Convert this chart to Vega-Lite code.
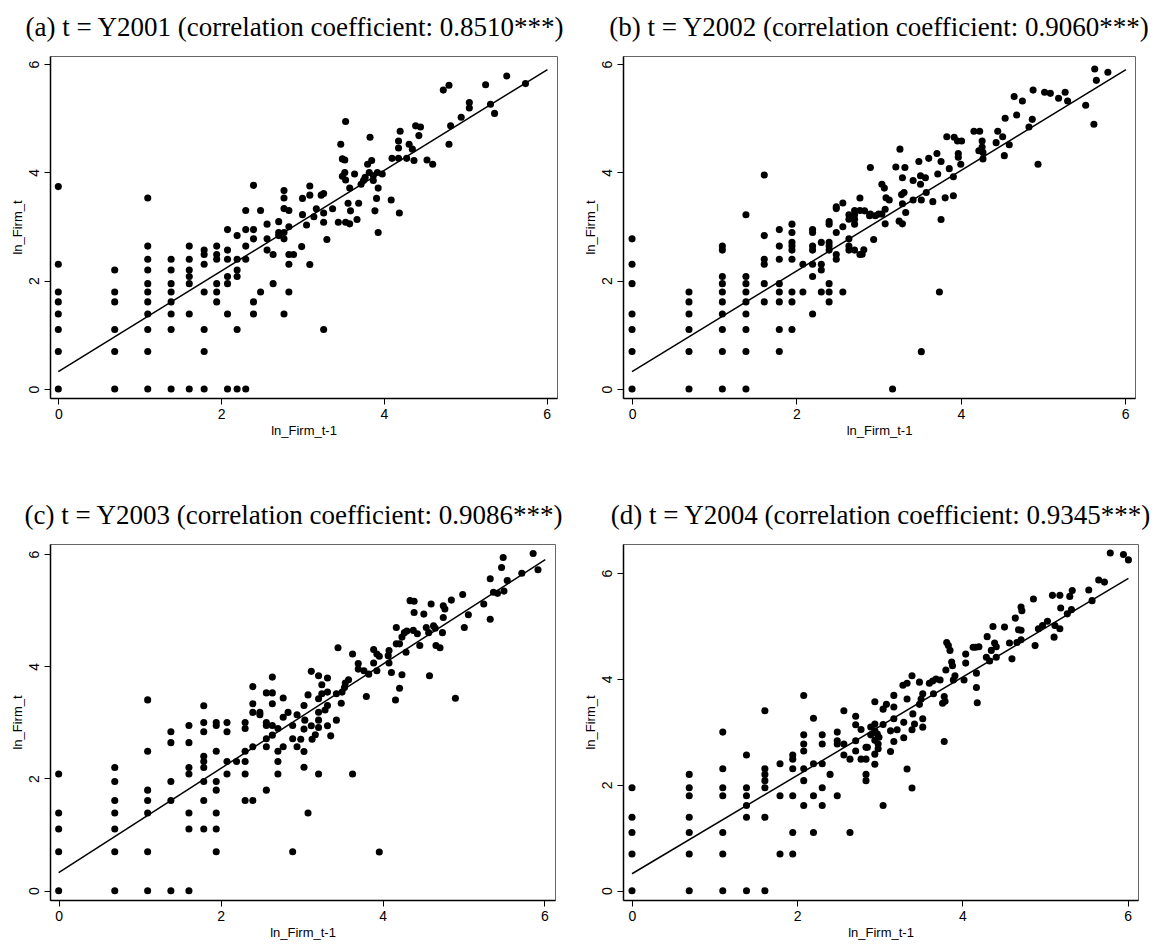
{
  "$schema": "https://vega.github.io/schema/vega-lite/v6.json",
  "padding": {"left": 10, "top": 13, "right": 5, "bottom": 5},
  "background": "white",
  "datasets": {
    "fit": [{"x": 0, "y": 0.32}, {"x": 6.01, "y": 5.9}],
    "a": [
      {"x":0,"y":3.738},{"x":0,"y":2.303},{"x":0,"y":1.792},{"x":0,"y":1.609},{"x":0,"y":1.386},{"x":0,"y":1.099},{"x":0,"y":0.693},{"x":0,"y":0},
      {"x":0.693,"y":2.197},{"x":0.693,"y":1.792},{"x":0.693,"y":1.609},{"x":0.693,"y":1.099},{"x":0.693,"y":0.693},{"x":0.693,"y":0},
      {"x":1.099,"y":3.526},{"x":1.099,"y":2.639},{"x":1.099,"y":2.398},{"x":1.099,"y":2.197},{"x":1.099,"y":1.946},{"x":1.099,"y":1.792},{"x":1.099,"y":1.609},{"x":1.099,"y":1.386},{"x":1.099,"y":1.099},{"x":1.099,"y":0.693},{"x":1.099,"y":0},
      {"x":1.386,"y":2.398},{"x":1.386,"y":2.197},{"x":1.386,"y":1.946},{"x":1.386,"y":1.792},{"x":1.386,"y":1.609},{"x":1.386,"y":1.386},{"x":1.386,"y":1.099},{"x":1.386,"y":0},
      {"x":1.609,"y":2.639},{"x":1.609,"y":2.398},{"x":1.609,"y":2.197},{"x":1.609,"y":2.079},{"x":1.609,"y":1.946},{"x":1.609,"y":1.386},{"x":1.609,"y":0},
      {"x":1.792,"y":2.565},{"x":1.792,"y":2.485},{"x":1.792,"y":2.303},{"x":1.792,"y":1.792},{"x":1.792,"y":1.099},{"x":1.792,"y":0.693},{"x":1.792,"y":0},
      {"x":1.946,"y":2.639},{"x":1.946,"y":2.485},{"x":1.946,"y":2.398},{"x":1.946,"y":1.946},{"x":1.946,"y":1.792},{"x":1.946,"y":1.609},
      {"x":2.079,"y":2.944},{"x":2.079,"y":2.565},{"x":2.079,"y":2.398},{"x":2.079,"y":2.079},{"x":2.079,"y":1.946},{"x":2.079,"y":1.386},{"x":2.079,"y":0},
      {"x":2.197,"y":2.833},{"x":2.197,"y":2.398},{"x":2.197,"y":2.197},{"x":2.197,"y":2.079},{"x":2.197,"y":1.099},{"x":2.197,"y":0},
      {"x":2.303,"y":3.296},{"x":2.303,"y":2.944},{"x":2.303,"y":2.639},{"x":2.303,"y":2.398},{"x":2.303,"y":0},
      {"x":2.398,"y":3.761},{"x":2.398,"y":2.944},{"x":2.398,"y":2.773},{"x":2.398,"y":1.609},{"x":2.398,"y":1.386},
      {"x":2.485,"y":3.296},{"x":2.485,"y":1.792},
      {"x":2.565,"y":3.045},{"x":2.565,"y":2.773},{"x":2.565,"y":2.565},
      {"x":2.639,"y":2.485},{"x":2.639,"y":1.946},
      {"x":2.708,"y":3.091},{"x":2.708,"y":2.89},{"x":2.708,"y":2.833},
      {"x":2.773,"y":3.664},{"x":2.773,"y":3.526},{"x":2.773,"y":3.332},{"x":2.773,"y":2.89},{"x":2.773,"y":2.773},{"x":2.773,"y":1.386},
      {"x":2.833,"y":3.296},{"x":2.833,"y":2.996},{"x":2.833,"y":2.485},{"x":2.833,"y":2.303},{"x":2.833,"y":1.792},
      {"x":2.89,"y":2.485},
      {"x":3.09,"y":3.75},{"x":3.09,"y":3.58},{"x":3.0,"y":3.52},{"x":3.0,"y":3.22},{"x":3.05,"y":3.03},{"x":3.14,"y":3.18},{"x":3.17,"y":3.33},{"x":3.23,"y":3.58},{"x":3.26,"y":3.61},{"x":3.26,"y":3.25},{"x":3.26,"y":3.08},{"x":3.3,"y":2.76},{"x":3.37,"y":3.33},{"x":3.44,"y":3.08},{"x":3.47,"y":4.52},{"x":3.49,"y":4.25},{"x":3.52,"y":4.23},{"x":3.53,"y":4.94},{"x":3.49,"y":3.93},{"x":3.52,"y":4.0},{"x":3.53,"y":3.86},{"x":3.56,"y":3.43},{"x":3.59,"y":3.29},{"x":3.58,"y":3.71},{"x":3.53,"y":3.08},{"x":3.58,"y":3.05},{"x":3.64,"y":3.97},{"x":3.67,"y":3.13},{"x":3.69,"y":3.43},{"x":3.72,"y":3.78},{"x":3.75,"y":3.85},{"x":3.77,"y":3.91},{"x":3.8,"y":4.15},{"x":3.83,"y":4.65},{"x":3.82,"y":4.0},{"x":3.85,"y":4.22},{"x":3.87,"y":3.85},{"x":3.87,"y":3.94},{"x":3.89,"y":3.29},{"x":3.91,"y":3.52},{"x":3.92,"y":4.0},{"x":3.93,"y":3.71},{"x":3.93,"y":2.89},{"x":3.98,"y":3.97},{"x":4.09,"y":3.49},{"x":4.1,"y":4.26},{"x":4.18,"y":4.26},{"x":4.18,"y":4.45},{"x":4.18,"y":4.58},{"x":4.2,"y":4.76},{"x":4.19,"y":3.25},{"x":4.28,"y":4.26},{"x":4.31,"y":4.52},{"x":4.35,"y":4.43},{"x":4.37,"y":4.22},{"x":4.39,"y":4.86},{"x":4.45,"y":4.84},{"x":4.43,"y":4.68},{"x":4.53,"y":4.23},{"x":4.6,"y":4.15},{"x":4.73,"y":5.52},{"x":4.8,"y":5.61},{"x":4.8,"y":4.52},{"x":4.82,"y":4.86},{"x":4.95,"y":5.02},{"x":5.05,"y":5.29},{"x":5.05,"y":5.19},{"x":5.25,"y":5.62},{"x":5.31,"y":5.26},{"x":5.36,"y":5.09},{"x":5.51,"y":5.78},{"x":5.74,"y":5.64},{"x":2.99,"y":2.63},{"x":3.09,"y":2.3},{"x":3.26,"y":1.1}
    ],
    "b": [
      {"x":0,"y":2.773},{"x":0,"y":2.303},{"x":0,"y":1.946},{"x":0,"y":1.386},{"x":0,"y":1.099},{"x":0,"y":0.693},{"x":0,"y":0},
      {"x":0.693,"y":1.792},{"x":0.693,"y":1.609},{"x":0.693,"y":1.386},{"x":0.693,"y":1.099},{"x":0.693,"y":0.693},{"x":0.693,"y":0},
      {"x":1.099,"y":2.639},{"x":1.099,"y":2.565},{"x":1.099,"y":2.079},{"x":1.099,"y":1.946},{"x":1.099,"y":1.792},{"x":1.099,"y":1.609},{"x":1.099,"y":1.386},{"x":1.099,"y":1.099},{"x":1.099,"y":0.693},{"x":1.099,"y":0},
      {"x":1.386,"y":3.219},{"x":1.386,"y":2.079},{"x":1.386,"y":1.946},{"x":1.386,"y":1.792},{"x":1.386,"y":1.609},{"x":1.386,"y":1.386},{"x":1.386,"y":1.099},{"x":1.386,"y":0.693},{"x":1.386,"y":0},
      {"x":1.609,"y":3.951},{"x":1.609,"y":2.833},{"x":1.609,"y":2.398},{"x":1.609,"y":2.303},{"x":1.609,"y":1.946},{"x":1.609,"y":1.609},
      {"x":1.792,"y":2.944},{"x":1.792,"y":2.639},{"x":1.792,"y":2.398},{"x":1.792,"y":1.946},{"x":1.792,"y":1.792},{"x":1.792,"y":1.609},{"x":1.792,"y":1.099},{"x":1.792,"y":0.693},
      {"x":1.946,"y":3.045},{"x":1.946,"y":2.89},{"x":1.946,"y":2.708},{"x":1.946,"y":2.639},{"x":1.946,"y":2.565},{"x":1.946,"y":2.398},{"x":1.946,"y":1.792},{"x":1.946,"y":1.609},{"x":1.946,"y":1.099},
      {"x":2.079,"y":2.303},{"x":2.079,"y":1.792},
      {"x":2.197,"y":2.944},{"x":2.197,"y":2.89},{"x":2.197,"y":2.639},{"x":2.197,"y":2.565},{"x":2.197,"y":2.303},{"x":2.197,"y":2.079},{"x":2.197,"y":1.386},
      {"x":2.303,"y":2.708},{"x":2.303,"y":2.303},{"x":2.303,"y":2.197},{"x":2.303,"y":1.792},
      {"x":2.398,"y":3.091},{"x":2.398,"y":3.045},{"x":2.398,"y":2.708},{"x":2.398,"y":2.639},{"x":2.398,"y":2.565},{"x":2.398,"y":1.946},{"x":2.398,"y":1.792},{"x":2.398,"y":1.609},
      {"x":2.485,"y":3.367},{"x":2.485,"y":3.332},{"x":2.485,"y":2.89},{"x":2.485,"y":2.485},{"x":2.485,"y":2.398},
      {"x":2.565,"y":3.434},{"x":2.565,"y":2.996},{"x":2.565,"y":1.792},
      {"x":2.639,"y":3.219},{"x":2.639,"y":3.135},{"x":2.639,"y":2.773},{"x":2.639,"y":2.639},{"x":2.639,"y":2.565},
      {"x":2.708,"y":3.296},{"x":2.708,"y":3.219},{"x":2.708,"y":3.135},{"x":2.708,"y":3.045},{"x":2.708,"y":2.565},
      {"x":2.773,"y":3.526},{"x":2.773,"y":3.296},{"x":2.773,"y":2.485},
      {"x":2.9,"y":4.09},{"x":2.89,"y":3.2},{"x":2.83,"y":3.29},{"x":2.9,"y":3.23},{"x":2.96,"y":3.2},{"x":3.0,"y":3.23},{"x":3.04,"y":3.23},{"x":3.08,"y":3.32},{"x":3.04,"y":3.78},{"x":3.07,"y":3.71},{"x":3.09,"y":3.53},{"x":3.13,"y":3.49},{"x":3.08,"y":3.05},{"x":2.94,"y":2.76},{"x":2.82,"y":2.57},{"x":2.8,"y":2.49},
      {"x":3.21,"y":4.1},{"x":3.26,"y":4.43},{"x":3.32,"y":4.09},{"x":3.29,"y":3.9},{"x":3.31,"y":3.63},{"x":3.28,"y":3.59},{"x":3.29,"y":3.42},{"x":3.33,"y":3.26},{"x":3.25,"y":3.1},{"x":3.29,"y":3.05},{"x":3.42,"y":3.85},{"x":3.42,"y":3.49},{"x":3.49,"y":4.2},{"x":3.51,"y":3.94},{"x":3.51,"y":3.78},{"x":3.52,"y":3.49},{"x":3.57,"y":3.9},{"x":3.58,"y":3.63},{"x":3.61,"y":4.26},{"x":3.66,"y":3.46},{"x":3.71,"y":4.35},{"x":3.72,"y":3.97},{"x":3.76,"y":4.2},{"x":3.76,"y":3.13},{"x":3.81,"y":3.53},{"x":3.83,"y":4.66},{"x":3.86,"y":4.07},{"x":3.92,"y":4.65},{"x":3.91,"y":3.57},{"x":3.91,"y":3.92},{"x":3.96,"y":4.58},{"x":3.97,"y":4.28},{"x":4.0,"y":4.15},{"x":3.97,"y":4.35},{"x":4.01,"y":4.58},{"x":4.16,"y":4.76},{"x":4.23,"y":4.76},{"x":4.22,"y":4.4},{"x":4.26,"y":4.58},{"x":4.26,"y":4.47},{"x":4.27,"y":4.37},{"x":4.27,"y":4.25},{"x":4.43,"y":4.55},{"x":4.45,"y":4.76},{"x":4.51,"y":4.66},{"x":4.53,"y":4.31},{"x":4.54,"y":5.0},{"x":4.59,"y":4.51},{"x":4.65,"y":5.4},{"x":4.68,"y":5.06},{"x":4.75,"y":5.32},{"x":4.83,"y":4.84},{"x":4.87,"y":4.98},{"x":4.88,"y":5.52},{"x":4.94,"y":4.15},{"x":5.02,"y":5.48},{"x":5.09,"y":5.46},{"x":5.19,"y":5.37},{"x":5.27,"y":5.48},{"x":5.3,"y":5.32},{"x":5.52,"y":5.24},{"x":5.62,"y":4.89},{"x":5.63,"y":5.91},{"x":5.65,"y":5.7},{"x":5.79,"y":5.85},{"x":3.17,"y":0},{"x":3.52,"y":0.69},{"x":3.74,"y":1.79}
    ],
    "c": [
      {"x":0,"y":2.079},{"x":0,"y":1.386},{"x":0,"y":1.099},{"x":0,"y":0.693},{"x":0,"y":0},
      {"x":0.693,"y":2.197},{"x":0.693,"y":1.946},{"x":0.693,"y":1.609},{"x":0.693,"y":1.386},{"x":0.693,"y":1.099},{"x":0.693,"y":0.693},{"x":0.693,"y":0},
      {"x":1.099,"y":3.401},{"x":1.099,"y":2.485},{"x":1.099,"y":1.792},{"x":1.099,"y":1.609},{"x":1.099,"y":1.386},{"x":1.099,"y":0.693},{"x":1.099,"y":0},
      {"x":1.386,"y":2.833},{"x":1.386,"y":2.639},{"x":1.386,"y":1.946},{"x":1.386,"y":1.609},{"x":1.386,"y":0},
      {"x":1.609,"y":2.944},{"x":1.609,"y":2.639},{"x":1.609,"y":2.197},{"x":1.609,"y":2.079},{"x":1.609,"y":1.386},{"x":1.609,"y":1.099},{"x":1.609,"y":0},
      {"x":1.792,"y":3.296},{"x":1.792,"y":2.996},{"x":1.792,"y":2.833},{"x":1.792,"y":2.398},{"x":1.792,"y":2.303},{"x":1.792,"y":2.197},{"x":1.792,"y":1.946},{"x":1.792,"y":1.609},{"x":1.792,"y":1.099},
      {"x":1.946,"y":2.996},{"x":1.946,"y":2.944},{"x":1.946,"y":2.485},{"x":1.946,"y":1.946},{"x":1.946,"y":1.792},{"x":1.946,"y":1.386},{"x":1.946,"y":1.099},{"x":1.946,"y":0.693},
      {"x":2.079,"y":2.996},{"x":2.079,"y":2.833},{"x":2.079,"y":2.303},{"x":2.079,"y":2.079},
      {"x":2.197,"y":2.303},
      {"x":2.303,"y":2.996},{"x":2.303,"y":2.89},{"x":2.303,"y":2.485},{"x":2.303,"y":2.303},{"x":2.303,"y":2.079},{"x":2.303,"y":1.609},
      {"x":2.398,"y":3.638},{"x":2.398,"y":3.332},{"x":2.398,"y":3.178},{"x":2.398,"y":2.565},{"x":2.398,"y":1.609},
      {"x":2.485,"y":3.178},{"x":2.485,"y":3.135},
      {"x":2.565,"y":3.526},{"x":2.565,"y":2.996},{"x":2.565,"y":2.944},{"x":2.565,"y":2.708},{"x":2.565,"y":2.565},{"x":2.565,"y":1.792},
      {"x":2.639,"y":3.807},{"x":2.639,"y":3.526},{"x":2.639,"y":3.332},{"x":2.639,"y":2.944},{"x":2.639,"y":2.773},
      {"x":2.708,"y":2.89},{"x":2.708,"y":2.485},{"x":2.708,"y":2.303},{"x":2.708,"y":2.079},
      {"x":2.773,"y":3.434},{"x":2.773,"y":3.091},{"x":2.773,"y":2.565},
      {"x":2.833,"y":3.178},
      {"x":2.89,"y":2.944},{"x":2.89,"y":2.708},{"x":2.89,"y":0.693},
      {"x":2.944,"y":3.135},{"x":2.944,"y":2.565},
      {"x":3.08,"y":1.386},{"x":2.99,"y":2.7},{"x":3.03,"y":2.48},{"x":3.03,"y":2.2},{"x":3.03,"y":2.88},{"x":3.04,"y":3.04},{"x":3.03,"y":3.3},{"x":3.08,"y":3.49},{"x":3.12,"y":3.91},{"x":3.12,"y":2.94},{"x":3.13,"y":2.7},{"x":3.17,"y":2.78},{"x":3.21,"y":3.83},{"x":3.21,"y":3.42},{"x":3.21,"y":3.18},{"x":3.21,"y":3.04},{"x":3.21,"y":2.91},{"x":3.21,"y":2.08},{"x":3.25,"y":3.67},{"x":3.25,"y":3.51},{"x":3.29,"y":3.22},{"x":3.32,"y":3.3},{"x":3.32,"y":3.54},{"x":3.32,"y":3.79},{"x":3.32,"y":2.94},{"x":3.36,"y":2.76},{"x":3.43,"y":3.04},{"x":3.45,"y":4.33},{"x":3.43,"y":3.51},{"x":3.49,"y":3.34},{"x":3.5,"y":3.54},{"x":3.53,"y":3.62},{"x":3.54,"y":3.7},{"x":3.58,"y":3.76},{"x":3.63,"y":4.22},{"x":3.63,"y":2.08},{"x":3.7,"y":4.05},{"x":3.7,"y":3.95},{"x":3.77,"y":3.92},{"x":3.8,"y":3.46},{"x":3.83,"y":3.86},{"x":3.89,"y":4.3},{"x":3.89,"y":4.06},{"x":3.93,"y":3.92},{"x":3.93,"y":4.22},{"x":3.96,"y":4.18},{"x":3.96,"y":0.69},{"x":4.07,"y":4.19},{"x":4.08,"y":4.28},{"x":4.08,"y":4.06},{"x":4.11,"y":3.89},{"x":4.16,"y":3.4},{"x":4.17,"y":4.69},{"x":4.17,"y":4.4},{"x":4.21,"y":4.4},{"x":4.21,"y":3.61},{"x":4.24,"y":3.85},{"x":4.24,"y":4.52},{"x":4.27,"y":4.6},{"x":4.29,"y":4.25},{"x":4.3,"y":4.63},{"x":4.34,"y":5.17},{"x":4.39,"y":5.16},{"x":4.39,"y":4.96},{"x":4.38,"y":4.64},{"x":4.43,"y":4.58},{"x":4.46,"y":4.37},{"x":4.51,"y":4.93},{"x":4.54,"y":4.69},{"x":4.57,"y":4.6},{"x":4.58,"y":3.83},{"x":4.6,"y":5.11},{"x":4.63,"y":4.72},{"x":4.65,"y":4.68},{"x":4.66,"y":4.37},{"x":4.71,"y":4.33},{"x":4.74,"y":4.6},{"x":4.75,"y":5.08},{"x":4.77,"y":5.02},{"x":4.75,"y":4.87},{"x":4.85,"y":5.18},{"x":4.9,"y":3.43},{"x":4.99,"y":5.28},{"x":5.01,"y":4.69},{"x":5.06,"y":4.92},{"x":5.25,"y":5.11},{"x":5.33,"y":5.56},{"x":5.33,"y":4.84},{"x":5.37,"y":5.32},{"x":5.42,"y":5.3},{"x":5.47,"y":5.76},{"x":5.49,"y":5.94},{"x":5.5,"y":5.34},{"x":5.54,"y":5.53},{"x":5.72,"y":5.66},{"x":5.86,"y":6.01},{"x":5.92,"y":5.72}
    ],
    "d": [
      {"x":0,"y":1.946},{"x":0,"y":1.386},{"x":0,"y":1.099},{"x":0,"y":0.693},{"x":0,"y":0},
      {"x":0.693,"y":2.197},{"x":0.693,"y":1.946},{"x":0.693,"y":1.792},{"x":0.693,"y":1.386},{"x":0.693,"y":1.099},{"x":0.693,"y":0.693},{"x":0.693,"y":0},
      {"x":1.099,"y":2.996},{"x":1.099,"y":2.303},{"x":1.099,"y":1.946},{"x":1.099,"y":1.792},{"x":1.099,"y":1.099},{"x":1.099,"y":0.693},{"x":1.099,"y":0},
      {"x":1.386,"y":2.565},{"x":1.386,"y":1.946},{"x":1.386,"y":1.792},{"x":1.386,"y":1.609},{"x":1.386,"y":1.386},{"x":1.386,"y":0},
      {"x":1.609,"y":3.401},{"x":1.609,"y":2.303},{"x":1.609,"y":2.197},{"x":1.609,"y":2.079},{"x":1.609,"y":1.946},{"x":1.609,"y":1.386},{"x":1.609,"y":0},
      {"x":1.792,"y":2.398},{"x":1.792,"y":1.792},{"x":1.792,"y":0.693},
      {"x":1.946,"y":2.565},{"x":1.946,"y":2.485},{"x":1.946,"y":2.303},{"x":1.946,"y":1.792},{"x":1.946,"y":1.099},{"x":1.946,"y":0.693},
      {"x":2.079,"y":3.689},{"x":2.079,"y":2.944},{"x":2.079,"y":2.773},{"x":2.079,"y":2.639},{"x":2.079,"y":2.303},{"x":2.079,"y":2.079},{"x":2.079,"y":1.609},
      {"x":2.197,"y":3.258},{"x":2.197,"y":2.398},{"x":2.197,"y":1.792},{"x":2.197,"y":1.099},
      {"x":2.303,"y":2.944},{"x":2.303,"y":2.773},{"x":2.303,"y":2.398},{"x":2.303,"y":1.946},{"x":2.303,"y":1.609},
      {"x":2.398,"y":2.197},
      {"x":2.485,"y":2.996},{"x":2.485,"y":2.833},{"x":2.485,"y":2.773},{"x":2.485,"y":1.792},
      {"x":2.565,"y":3.401},{"x":2.565,"y":2.773},{"x":2.565,"y":2.565},
      {"x":2.639,"y":2.485},{"x":2.639,"y":1.099},
      {"x":2.708,"y":3.296},{"x":2.708,"y":3.135},{"x":2.708,"y":2.833},{"x":2.708,"y":2.639},
      {"x":2.773,"y":3.045},{"x":2.773,"y":2.485},
      {"x":2.833,"y":2.708},{"x":2.833,"y":2.485},{"x":2.833,"y":2.197},{"x":2.833,"y":2.079},
      {"x":2.89,"y":3.091},{"x":2.89,"y":2.944},
      {"x":2.85,"y":2.71},{"x":2.94,"y":3.15},{"x":2.94,"y":3.02},{"x":2.94,"y":2.84},{"x":2.94,"y":2.58},{"x":2.94,"y":2.39},{"x":2.97,"y":2.96},{"x":2.98,"y":2.77},{"x":2.98,"y":2.68},{"x":2.99,"y":2.9},{"x":2.94,"y":3.57},{"x":3.04,"y":3.43},{"x":3.04,"y":3.14},{"x":3.04,"y":1.61},{"x":3.08,"y":3.52},{"x":3.13,"y":3.02},{"x":3.13,"y":2.63},{"x":3.17,"y":3.69},{"x":3.17,"y":3.47},{"x":3.17,"y":3.25},{"x":3.17,"y":2.82},{"x":3.21,"y":3.04},{"x":3.28,"y":3.88},{"x":3.29,"y":3.18},{"x":3.29,"y":2.89},{"x":3.33,"y":3.62},{"x":3.33,"y":3.92},{"x":3.33,"y":2.3},{"x":3.39,"y":4.06},{"x":3.4,"y":3.34},{"x":3.39,"y":3.04},{"x":3.39,"y":1.94},{"x":3.42,"y":3.15},{"x":3.48,"y":3.94},{"x":3.48,"y":3.52},{"x":3.5,"y":3.62},{"x":3.52,"y":3.72},{"x":3.52,"y":3.25},{"x":3.52,"y":3.09},{"x":3.6,"y":3.92},{"x":3.64,"y":3.96},{"x":3.65,"y":3.72},{"x":3.68,"y":4.0},{"x":3.73,"y":3.98},{"x":3.76,"y":3.54},{"x":3.78,"y":3.67},{"x":3.79,"y":3.58},{"x":3.78,"y":2.82},{"x":3.8,"y":4.17},{"x":3.81,"y":4.69},{"x":3.83,"y":4.63},{"x":3.85,"y":4.54},{"x":3.87,"y":4.32},{"x":3.88,"y":4.25},{"x":3.89,"y":3.98},{"x":3.91,"y":4.06},{"x":4.02,"y":3.98},{"x":4.04,"y":4.47},{"x":4.04,"y":4.3},{"x":4.13,"y":4.6},{"x":4.16,"y":4.6},{"x":4.17,"y":4.11},{"x":4.17,"y":3.84},{"x":4.18,"y":3.55},{"x":4.2,"y":4.61},{"x":4.29,"y":4.41},{"x":4.3,"y":4.8},{"x":4.33,"y":4.34},{"x":4.35,"y":4.54},{"x":4.37,"y":4.99},{"x":4.39,"y":4.68},{"x":4.41,"y":4.61},{"x":4.41,"y":4.41},{"x":4.51,"y":4.98},{"x":4.57,"y":4.68},{"x":4.6,"y":4.38},{"x":4.64,"y":5.15},{"x":4.66,"y":4.69},{"x":4.68,"y":4.93},{"x":4.71,"y":4.92},{"x":4.71,"y":4.74},{"x":4.71,"y":5.36},{"x":4.72,"y":5.29},{"x":4.86,"y":5.51},{"x":4.88,"y":4.63},{"x":4.92,"y":4.95},{"x":4.97,"y":5.01},{"x":5.03,"y":5.09},{"x":5.09,"y":5.58},{"x":5.11,"y":4.79},{"x":5.12,"y":5.01},{"x":5.18,"y":5.58},{"x":5.18,"y":4.95},{"x":5.19,"y":5.34},{"x":5.27,"y":5.23},{"x":5.3,"y":5.56},{"x":5.32,"y":5.31},{"x":5.33,"y":5.67},{"x":5.53,"y":5.68},{"x":5.57,"y":5.48},{"x":5.65,"y":5.87},{"x":5.72,"y":5.83},{"x":5.79,"y":6.38},{"x":5.95,"y":6.35},{"x":6.01,"y":6.25}
    ]
  },
  "concat": [
    {
      "title": {"text": "(a) t = Y2001 (correlation coefficient: 0.8510***)", "dx": -9, "offset": 14},
      "width": 507, "height": 342,
      "layer": [
        {"data": {"name": "a"}, "mark": {"type": "circle", "size": 50, "color": "black", "opacity": 1},
         "encoding": {
           "x": {"field": "x", "type": "quantitative", "scale": {"domain": [-0.102, 6.127], "nice": false, "zero": false}, "axis": {"values": [0, 2, 4, 6], "format": "d", "title": "ln_Firm_t-1"}},
           "y": {"field": "y", "type": "quantitative", "scale": {"domain": [-0.166, 6.15], "nice": false, "zero": false}, "axis": {"values": [0, 2, 4, 6], "format": "d", "title": "ln_Firm_t", "labelAngle": 270}}}},
        {"data": {"name": "fit"}, "mark": {"type": "line", "color": "black", "strokeWidth": 1.5},
         "encoding": {"x": {"field": "x", "type": "quantitative"}, "y": {"field": "y", "type": "quantitative"}}}
      ]
    },
    {
      "title": {"text": "(b) t = Y2002 (correlation coefficient: 0.9060***)", "dx": 0, "offset": 14},
      "width": 512, "height": 342,
      "layer": [
        {"data": {"name": "b"}, "mark": {"type": "circle", "size": 50, "color": "black", "opacity": 1},
         "encoding": {
           "x": {"field": "x", "type": "quantitative", "scale": {"domain": [-0.11, 6.12], "nice": false, "zero": false}, "axis": {"values": [0, 2, 4, 6], "format": "d", "title": "ln_Firm_t-1"}},
           "y": {"field": "y", "type": "quantitative", "scale": {"domain": [-0.166, 6.15], "nice": false, "zero": false}, "axis": {"values": [0, 2, 4, 6], "format": "d", "title": "ln_Firm_t", "labelAngle": 270}}}},
        {"data": {"name": "fit"}, "mark": {"type": "line", "color": "black", "strokeWidth": 1.5},
         "encoding": {"x": {"field": "x", "type": "quantitative"}, "y": {"field": "y", "type": "quantitative"}}}
      ]
    },
    {
      "title": {"text": "(c) t = Y2003 (correlation coefficient: 0.9086***)", "dx": -9, "offset": 14},
      "width": 505, "height": 356,
      "layer": [
        {"data": {"name": "c"}, "mark": {"type": "circle", "size": 50, "color": "black", "opacity": 1},
         "encoding": {
           "x": {"field": "x", "type": "quantitative", "scale": {"domain": [-0.107, 6.13], "nice": false, "zero": false}, "axis": {"values": [0, 2, 4, 6], "format": "d", "title": "ln_Firm_t-1"}},
           "y": {"field": "y", "type": "quantitative", "scale": {"domain": [-0.166, 6.18], "nice": false, "zero": false}, "axis": {"values": [0, 2, 4, 6], "format": "d", "title": "ln_Firm_t", "labelAngle": 270}}}},
        {"data": {"name": "fit"}, "mark": {"type": "line", "color": "black", "strokeWidth": 1.5},
         "encoding": {"x": {"field": "x", "type": "quantitative"}, "y": {"field": "y", "type": "quantitative"}}}
      ]
    },
    {
      "title": {"text": "(d) t = Y2004 (correlation coefficient: 0.9345***)", "dx": 0, "offset": 14},
      "width": 515, "height": 356,
      "layer": [
        {"data": {"name": "d"}, "mark": {"type": "circle", "size": 50, "color": "black", "opacity": 1},
         "encoding": {
           "x": {"field": "x", "type": "quantitative", "scale": {"domain": [-0.109, 6.126], "nice": false, "zero": false}, "axis": {"values": [0, 2, 4, 6], "format": "d", "title": "ln_Firm_t-1"}},
           "y": {"field": "y", "type": "quantitative", "scale": {"domain": [-0.176, 6.55], "nice": false, "zero": false}, "axis": {"values": [0, 2, 4, 6], "format": "d", "title": "ln_Firm_t", "labelAngle": 270}}}},
        {"data": {"name": "fit"}, "mark": {"type": "line", "color": "black", "strokeWidth": 1.5},
         "encoding": {"x": {"field": "x", "type": "quantitative"}, "y": {"field": "y", "type": "quantitative"}}}
      ]
    }
  ],
  "columns": 2,
  "spacing": {"row": 146, "column": 66},
  "bounds": "flush",
  "align": "none",
  "config": {
    "view": {"stroke": "#666", "strokeWidth": 1},
    "axis": {"grid": false, "domainColor": "black", "domainWidth": 1.5, "tickColor": "black", "tickWidth": 1, "tickSize": 6, "labelColor": "black", "titleColor": "black", "labelFont": "Liberation Sans", "titleFont": "Liberation Sans", "labelFontSize": 14, "titleFontSize": 13, "titleFontWeight": "normal", "labelPadding": 3, "titlePadding": 3},
    "title": {"font": "Liberation Serif", "fontSize": 27, "fontWeight": "normal", "color": "black", "anchor": "middle"}
  }
}
